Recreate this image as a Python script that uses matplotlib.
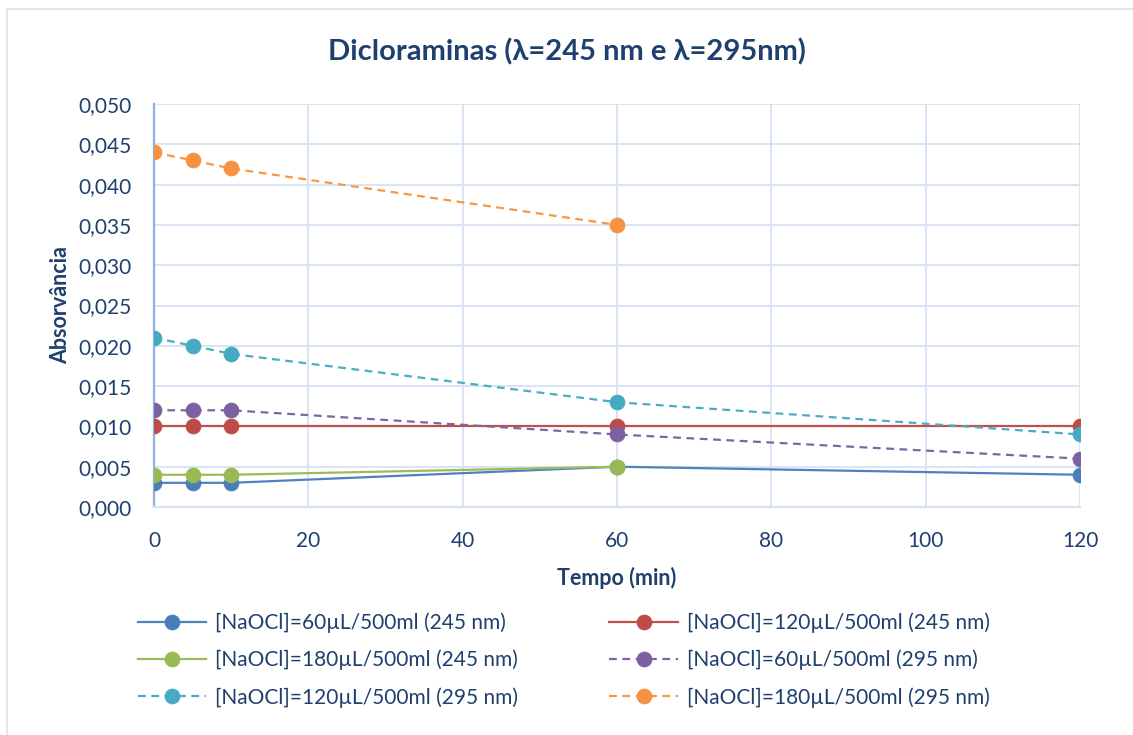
import matplotlib
matplotlib.use("Agg")
import matplotlib.pyplot as plt
from matplotlib.patches import Rectangle
from matplotlib.ticker import FuncFormatter, MultipleLocator

plt.rcParams['font.family'] = ['Lato', 'DejaVu Sans']

# Absorbance of dichloramines over time
tempo_a = [0, 5, 10, 60, 120]
tempo_b = [0, 5, 10, 60]

abs_60_245 = [0.003, 0.003, 0.003, 0.005, 0.004]
abs_120_245 = [0.010, 0.010, 0.010, 0.010, 0.010]
abs_180_245 = [0.004, 0.004, 0.004, 0.005]
abs_60_295 = [0.012, 0.012, 0.012, 0.009, 0.006]
abs_120_295 = [0.021, 0.020, 0.019, 0.013, 0.009]
abs_180_295 = [0.044, 0.043, 0.042, 0.035]

labels = [
    "[NaOCl]=60µL/500ml (245 nm)",
    "[NaOCl]=120µL/500ml (245 nm)",
    "[NaOCl]=180µL/500ml (245 nm)",
    "[NaOCl]=60µL/500ml (295 nm)",
    "[NaOCl]=120µL/500ml (295 nm)",
    "[NaOCl]=180µL/500ml (295 nm)",
]

series = [
    (tempo_a, abs_60_245, "#4F81BD", "#4A7EBB", "-"),
    (tempo_a, abs_120_245, "#C0504D", "#BE4B48", "-"),
    (tempo_b, abs_180_245, "#9BBB59", "#98B954", "-"),
    (tempo_a, abs_60_295, "#8064A2", "#7D60A0", "--"),
    (tempo_a, abs_120_295, "#4BACC6", "#46AAC5", "--"),
    (tempo_b, abs_180_295, "#F79646", "#F69240", "--"),
]

text_col = "#1F3F6E"
grid_col = "#D6E3F5"

fig = plt.figure(figsize=(11.33, 7.35), dpi=100)
ax = fig.add_axes([0.1359, 0.3102, 0.8173, 0.5483])

handles = []
for (x, y, lc, mc, ls), lab in zip(series, labels):
    h, = ax.plot(x, y, linestyle=ls, color=lc, linewidth=1.6,
                 dashes=(3.5, 2.5) if ls == "--" else (None, None),
                 marker="o", markersize=10.5, markerfacecolor=mc,
                 markeredgecolor=mc, markeredgewidth=0.8, label=lab, zorder=3)
    handles.append(h)

ax.set_xlim(0, 120)
ax.set_ylim(0, 0.050)
ax.xaxis.set_major_locator(MultipleLocator(20))
ax.yaxis.set_major_locator(MultipleLocator(0.005))
ax.yaxis.set_major_formatter(FuncFormatter(lambda v, p: f"{v:.3f}".replace(".", ",")))

ax.grid(True, color=grid_col, linewidth=1.3, zorder=0)
ax.set_axisbelow(True)
for s in ["top", "right"]:
    ax.spines[s].set_visible(False)
ax.spines["left"].set_color("#8EB4E3")
ax.spines["left"].set_linewidth(1.6)
ax.spines["bottom"].set_color(grid_col)
ax.spines["bottom"].set_linewidth(1.6)
ax.tick_params(length=0, labelsize=15, labelcolor=text_col)
ax.tick_params(axis="y", pad=16)
ax.tick_params(axis="x", pad=17)

ax.set_xlabel("Tempo (min)", fontsize=15.5, fontweight="bold", color=text_col, labelpad=12)
ax.set_ylabel("Absorvância", fontsize=15.5, fontweight="bold", color=text_col, labelpad=5)
fig.text(0.5, 0.93, "Dicloraminas (λ=245 nm e λ=295nm)", ha="center", va="center",
         fontsize=21, fontweight="bold", color=text_col)

# two legend columns, filled row by row
order = [0, 2, 4, 1, 3, 5]
fig.legend([handles[i] for i in order], [labels[i] for i in order],
           loc="upper left", bbox_to_anchor=(0.105, 0.192), ncol=2, frameon=False,
           fontsize=15, labelcolor=text_col, handlelength=3.3, handletextpad=0.4,
           columnspacing=4.4, labelspacing=0.8, borderpad=0.4)

fig.patches.append(Rectangle((0.006, -0.05), 1.1, 1.038, transform=fig.transFigure,
                             fill=False, edgecolor="#D9E2EE", linewidth=1.2))

fig.savefig("out.png", dpi=100)
